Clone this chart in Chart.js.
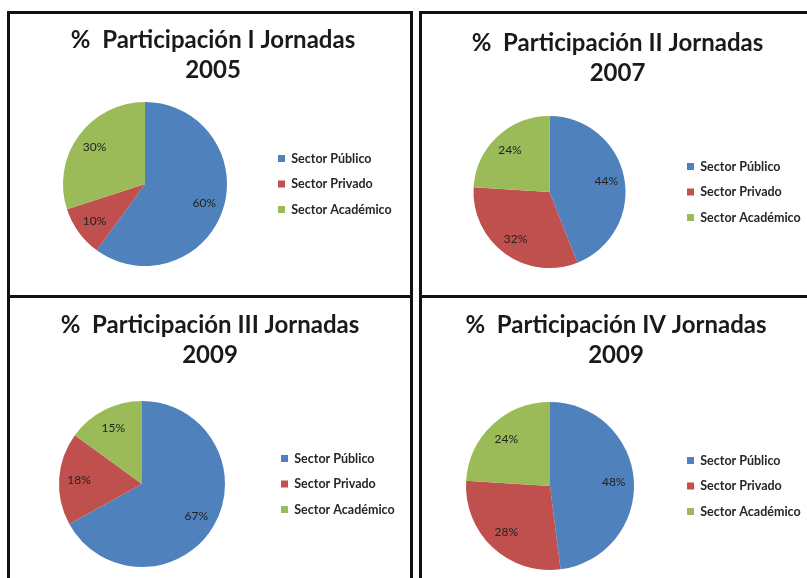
<!DOCTYPE html>
<html>
<head>
<meta charset="utf-8">
<script src="https://cdn.jsdelivr.net/npm/chart.js@4.4.1/dist/chart.umd.min.js"></script>
<style>
  html, body { margin: 0; padding: 0; background: #fff; overflow: hidden; }
  body { width: 807px; height: 578px; position: relative; }
  .panel { position: absolute; box-sizing: border-box; border: 3px solid #111; background: #fff; }
  .panel canvas { display: block; }
</style>
</head>
<body>
<div class="panel" style="left:7px;top:11px;width:406px;height:287px;"><canvas id="chart1" width="400" height="281"></canvas></div>
<div class="panel" style="left:419px;top:11px;width:400px;height:287px;"><canvas id="chart2" width="394" height="281"></canvas></div>
<div class="panel" style="left:7px;top:295px;width:406px;height:300px;"><canvas id="chart3" width="400" height="294"></canvas></div>
<div class="panel" style="left:419px;top:295px;width:400px;height:300px;"><canvas id="chart4" width="394" height="294"></canvas></div>

<script>
// Data
const sectores = ['Sector Público', 'Sector Privado', 'Sector Académico'];
const colores = ['#4F81BD', '#C0504D', '#9BBB59'];

const titulo1 = ['%  Participación I Jornadas', '2005'];
const titulo2 = ['%  Participación II Jornadas', '2007'];
const titulo3 = ['%  Participación III Jornadas', '2009'];
const titulo4 = ['%  Participación IV Jornadas', '2009'];

const jornadaI = [60, 10, 30];
const jornadaII = [44, 32, 24];
const jornadaIII = [67, 18, 15];
const jornadaIV = [48, 28, 24];

// Legend spacing
const LEGEND_PAD = 13;

// Plugin - two line title drawn at a fixed spot of the panel
const panelTitle = {
    id: 'panelTitle',
    afterDraw(chart, args, opts) {
        const ctx = chart.ctx;
        ctx.save();
        ctx.font = 'bold 24px Lato';
        ctx.fillStyle = '#1a1a1a';
        ctx.textAlign = 'center';
        ctx.textBaseline = 'middle';
        opts.lines.forEach((line, i) => {
            ctx.fillText(line, opts.x, opts.y + i * 30);
        });
        ctx.restore();
    }
};

// Plugin - percentage inside each slice
const pctLabels = {
    id: 'pctLabels',
    afterDatasetsDraw(chart, args, opts) {
        const ctx = chart.ctx;
        const meta = chart.getDatasetMeta(0);
        const values = chart.data.datasets[0].data;
        ctx.save();
        ctx.font = '12px Lato';
        ctx.fillStyle = '#222';
        ctx.textAlign = 'center';
        ctx.textBaseline = 'middle';
        meta.data.forEach((arc, i) => {
            const p = arc.getProps(['x', 'y', 'startAngle', 'endAngle', 'outerRadius'], true);
            const mid = (p.startAngle + p.endAngle) / 2;
            const d = p.outerRadius * opts.dist;
            ctx.fillText(values[i] + '%', p.x + Math.cos(mid) * d, p.y + Math.sin(mid) * d);
        });
        ctx.restore();
    }
};

// Render one pie - geo: pie centre / radius, legend box x, title spot (canvas coords)
function makePie(canvasId, values, title, geo) {
    const cvs = document.getElementById(canvasId);
    const W = cvs.width;
    const H = cvs.height;
    const legendLeft = geo.boxX - LEGEND_PAD;

    const chart = new Chart(cvs, {
        type: 'pie',
        data: {
            labels: sectores,
            datasets: [{
                data: values,
                backgroundColor: colores,
                borderWidth: 0
            }]
        },
        options: {
            responsive: false,
            animation: false,
            radius: geo.r,
            layout: {
                padding: {
                    left: 2 * geo.cx - legendLeft,
                    right: 0,
                    top: geo.cy - 90,
                    bottom: H - geo.cy - 90
                }
            },
            plugins: {
                legend: {
                    position: 'right',
                    labels: {
                        boxWidth: 7,
                        boxHeight: 7,
                        padding: LEGEND_PAD,
                        color: '#262626',
                        font: { family: 'Lato', size: 12.5, weight: 'bold' }
                    }
                },
                tooltip: { enabled: false },
                panelTitle: { lines: title, x: geo.tx, y: geo.ty },
                pctLabels: { dist: 0.76 }
            }
        },
        plugins: [panelTitle, pctLabels]
    });

    // Legend width is known after the first layout: pad the right so the legend starts at legendLeft
    chart.options.layout.padding.right = Math.max(0, W - legendLeft - chart.legend.width);
    chart.update();
    return chart;
}

makePie('chart1', jornadaI, titulo1, { cx: 135, cy: 170, r: 82, boxX: 268, tx: 203, ty: 26 });
makePie('chart2', jornadaII, titulo2, { cx: 127.5, cy: 178, r: 76, boxX: 265, tx: 195.5, ty: 29 });
makePie('chart3', jornadaIII, titulo3, { cx: 132, cy: 186, r: 83, boxX: 271, tx: 200, ty: 27 });
makePie('chart4', jornadaIV, titulo4, { cx: 128, cy: 188, r: 84, boxX: 265, tx: 194, ty: 27 });
</script>
</body>
</html>
